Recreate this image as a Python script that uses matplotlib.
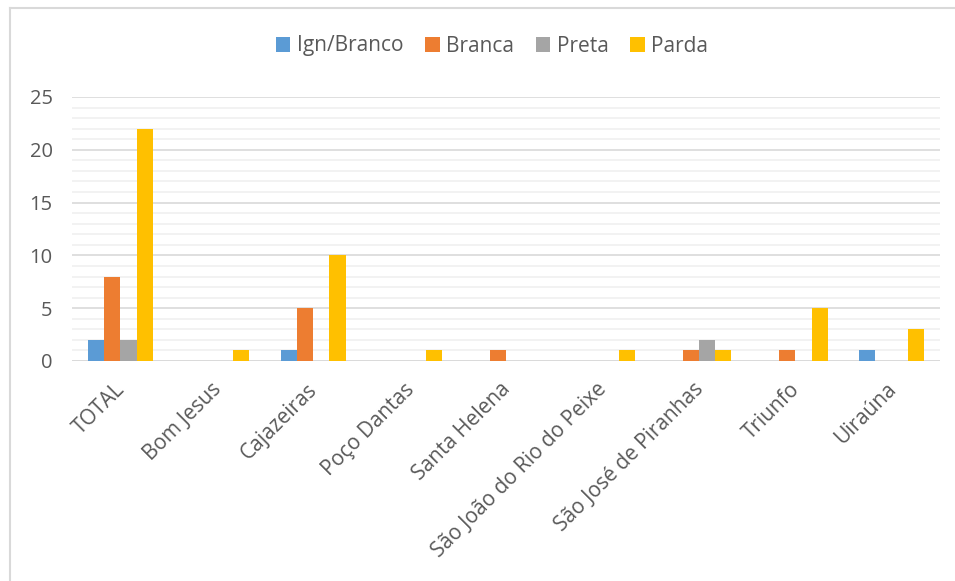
import numpy as np
import matplotlib.pyplot as plt
import matplotlib.transforms as mtransforms
from matplotlib.lines import Line2D

# Data
categories = ["TOTAL", "Bom Jesus", "Cajazeiras", "Poço Dantas", "Santa Helena",
              "São João do Rio do Peixe", "São José de Piranhas", "Triunfo", "Uiraúna"]
series_names = ["Ign/Branco", "Branca", "Preta", "Parda"]
ign_branco = [2, 0, 1, 0, 0, 0, 0, 0, 1]
branca = [8, 0, 5, 0, 1, 0, 1, 1, 0]
preta = [2, 0, 0, 0, 0, 0, 2, 0, 0]
parda = [22, 1, 10, 1, 0, 1, 1, 5, 3]
y_ticks = [0, 5, 10, 15, 20, 25]

colors = ["#5B9BD5", "#ED7D31", "#A5A5A5", "#FFC000"]
text_color = "#595959"

plt.rcParams["font.family"] = ["Open Sans", "DejaVu Sans"]

fig = plt.figure(figsize=(9.55, 5.81), dpi=100)
ax = fig.add_axes([72 / 955, 1 - 361 / 581, (940 - 72) / 955, (361 - 97) / 581])

x = np.arange(len(categories))
bar_w = 0.169
all_series = [ign_branco, branca, preta, parda]
for i, (vals, name, c) in enumerate(zip(all_series, series_names, colors)):
    offset = (i - 1.5) * bar_w
    ax.bar(x + offset, vals, width=bar_w, color=c, label=name, zorder=3)

ax.set_xlim(-0.5, len(categories) - 0.5)
ax.set_ylim(0, 25)
ax.set_yticks(y_ticks)
ax.set_yticks(np.arange(0, 26, 1), minor=True)
ax.grid(axis="y", which="major", color="#d9d9d9", linewidth=1.2, zorder=0)
ax.grid(axis="y", which="minor", color="#f0f0f0", linewidth=1.2, zorder=0)
ax.axhline(0, color="#d9d9d9", linewidth=1.2, zorder=2)

for s in ax.spines.values():
    s.set_visible(False)

ax.tick_params(axis="y", which="both", length=0, labelsize=14.5, labelcolor=text_color, pad=14)
ax.tick_params(axis="x", length=0, labelsize=15, labelcolor=text_color, pad=13)
ax.set_xticks(x)
ax.set_xticklabels(categories, rotation=45, ha="right", rotation_mode="anchor")
shift = mtransforms.ScaledTranslation(-6 / 100, 0, fig.dpi_scale_trans)
for lbl in ax.get_xticklabels():
    lbl.set_transform(lbl.get_transform() + shift)

ax.legend(loc="center", bbox_to_anchor=(492 / 955, 1 - 46 / 581),
          bbox_transform=fig.transFigure, ncol=4, frameon=False,
          fontsize=15, labelcolor=text_color, handlelength=0.7, handleheight=0.7,
          handletextpad=0.3, columnspacing=1.05)

# chart area border (partially cropped in the reference)
fig.add_artist(Line2D([10 / 955, 10 / 955], [0, 1 - 8 / 581], transform=fig.transFigure,
                      color="#d9d9d9", linewidth=1.5))
fig.add_artist(Line2D([10 / 955, 1], [1 - 8 / 581, 1 - 8 / 581], transform=fig.transFigure,
                      color="#d9d9d9", linewidth=1.5))

fig.savefig("out.png", dpi=100)
